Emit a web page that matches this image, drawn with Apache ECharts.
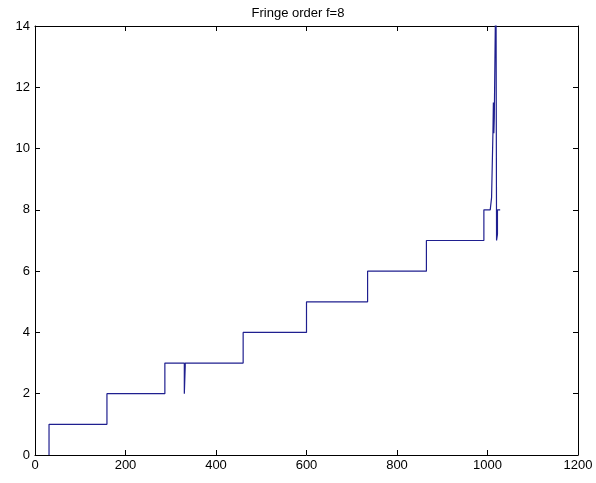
<!DOCTYPE html>
<html>
<head>
<meta charset="utf-8">
<script src="https://cdn.jsdelivr.net/npm/echarts@6/dist/echarts.min.js"></script>
<style>html,body{margin:0;padding:0;background:#fff}#c{width:596px;height:483px}</style>
</head>
<body>
<div id="c"></div>
<script>
const titleText = 'Fringe order f=8';
const xTicks = [0, 200, 400, 600, 800, 1000, 1200];
const yTicks = [0, 2, 4, 6, 8, 10, 12, 14];
// path of the fringe-order trace (x position, order)
const xValues = [31, 31, 159, 159, 287, 287, 330, 330, 332, 332, 460, 460, 600, 600, 735, 735, 865, 865, 992, 992, 1006, 1009, 1012, 1013, 1014, 1015, 1018, 1019, 1020, 1021, 1022, 1022, 1028];
const yValues = [0, 1, 1, 2, 2, 3, 3, 2, 2.9, 3, 3, 4, 4, 5, 5, 6, 6, 7, 7, 8, 8, 8.4, 10.5, 11.5, 10.5, 11, 15, 14, 7, 7, 7.2, 8, 8];

const chart = echarts.init(document.getElementById('c'));
const lblFont = {fontFamily: 'Liberation Sans, Arial, sans-serif', fontSize: 13, color: '#000'};
const axisCommon = {
  axisLine: {show: true, onZero: false, lineStyle: {color: '#000', width: 1}},
  axisTick: {show: true, inside: true, length: 5, lineStyle: {color: '#000'}},
  splitLine: {show: false}
};
const plain = v => String(v);
chart.setOption({
  backgroundColor: '#fff',
  animation: false,
  title: {text: titleText, left: 'center', top: 2, textStyle: {fontFamily: 'Liberation Sans, Arial, sans-serif', fontSize: 13, fontWeight: 'normal', color: '#000'}},
  grid: {left: 35, right: 18, top: 26, bottom: 28},
  xAxis: [
    Object.assign({type: 'value', min: xTicks[0], max: xTicks[xTicks.length-1], interval: 200, position: 'bottom',
      axisLabel: Object.assign({margin: 4, formatter: plain}, lblFont)}, axisCommon),
    Object.assign({type: 'value', min: xTicks[0], max: xTicks[xTicks.length-1], interval: 200, position: 'top',
      axisLabel: {show: false}}, axisCommon)
  ],
  yAxis: [
    Object.assign({type: 'value', min: yTicks[0], max: yTicks[yTicks.length-1], interval: 2, position: 'left',
      axisLabel: Object.assign({margin: 5, formatter: plain}, lblFont)}, axisCommon),
    Object.assign({type: 'value', min: yTicks[0], max: yTicks[yTicks.length-1], interval: 2, position: 'right',
      axisLabel: {show: false}}, axisCommon)
  ],
  series: [{
    type: 'line',
    xAxisIndex: 0, yAxisIndex: 0,
    data: xValues.map((x, i) => [x, yValues[i]]),
    showSymbol: false,
    clip: true,
    lineStyle: {color: '#1f1f8f', width: 1.2}
  }]
});
</script>
</body>
</html>
